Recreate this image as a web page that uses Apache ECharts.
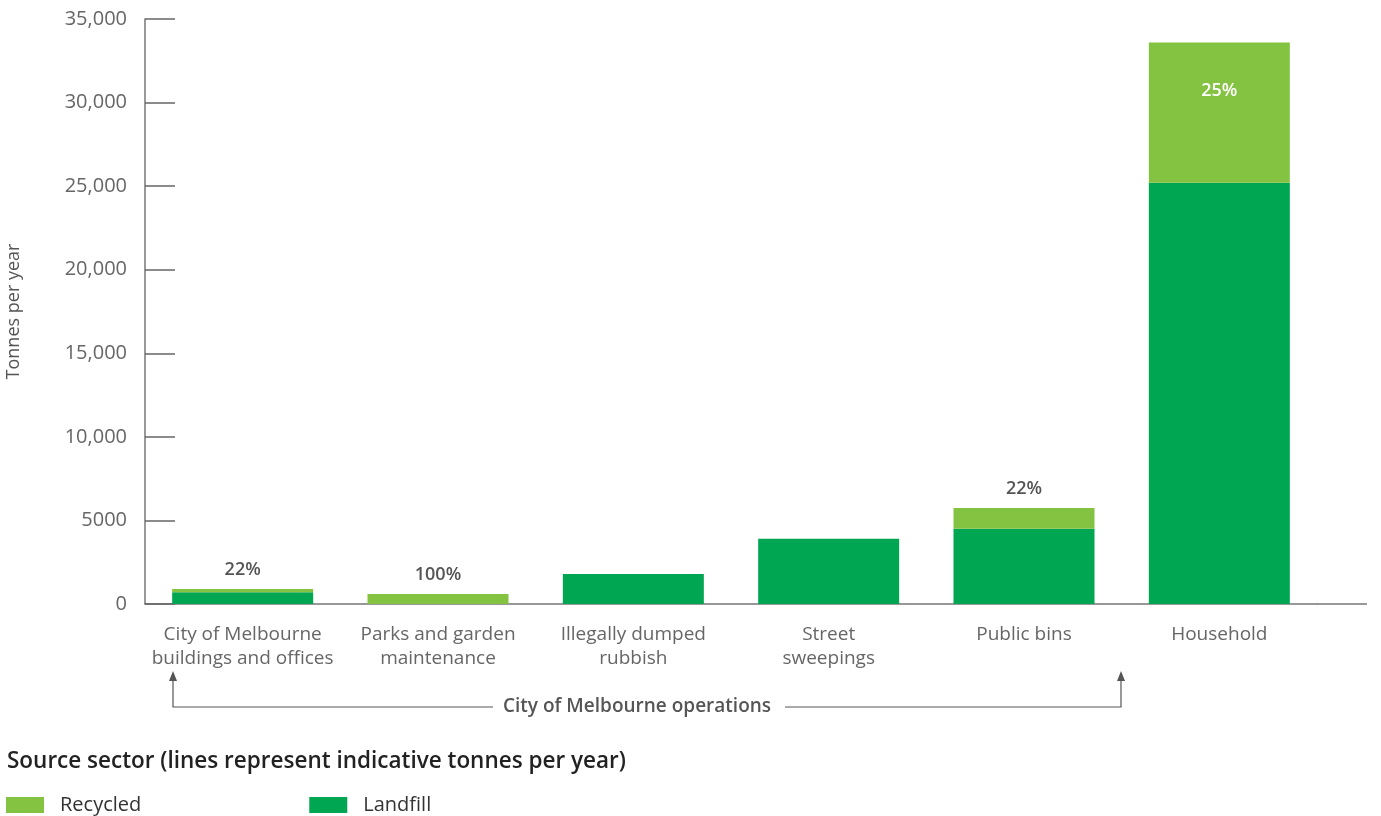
<!DOCTYPE html>
<html>
<head>
<meta charset="utf-8">
<script src="https://cdn.jsdelivr.net/npm/echarts@6/dist/echarts.min.js"></script>
<style>
html,body{margin:0;padding:0;background:#fff;}
#chart{width:1381px;height:816px;}
</style>
</head>
<body>
<div id="chart"></div>
<script>
const categories = ['City of Melbourne\nbuildings and offices', 'Parks and garden\nmaintenance', 'Illegally dumped\nrubbish', 'Street\nsweepings', 'Public bins', 'Household'];
const landfill = [700, 0, 1800, 3900, 4500, 25200];
const recycled = [200, 600, 0, 0, 1250, 8400];
const recycledPct = ['22%', '100%', '', '', '22%', '25%'];
const yTickLabels = ['0', '5000', '10,000', '15,000', '20,000', '25,000', '30,000', '35,000'];

const FONT = '"Open Sans", sans-serif';
const chart = echarts.init(document.getElementById('chart'));

const recycledData = recycled.map((v, i) => {
  const item = { value: v };
  if (i === 5) {
    item.label = { show: true, position: 'insideTop', distance: 39, color: '#ffffff', formatter: recycledPct[i] };
  } else if (recycledPct[i]) {
    item.label = { show: true, position: 'top', distance: 10, formatter: recycledPct[i] };
  }
  return item;
});

chart.setOption({
  animation: false,
  textStyle: { fontFamily: FONT },
  grid: { left: 145, top: 19, bottom: 212, width: 1172, containLabel: false, outerBoundsMode: 'none' },
  legend: {
    left: 6, top: 795, itemWidth: 38, itemHeight: 16, itemGap: 168, padding: 0,
    icon: 'rect',
    data: ['Recycled', 'Landfill'],
    textStyle: { fontFamily: FONT, fontSize: 20, color: '#333', padding: [0, 0, 0, 11] }
  },
  xAxis: {
    type: 'category',
    data: categories,
    axisLine: { lineStyle: { color: '#777', width: 1.5 } },
    axisTick: { show: false },
    axisLabel: { interval: 0, fontFamily: FONT, fontSize: 19, color: '#666', lineHeight: 24, margin: 19 }
  },
  yAxis: {
    type: 'value', min: 0, max: 35000, interval: 5000,
    name: 'Tonnes per year', nameLocation: 'middle', nameGap: 122, nameRotate: 90,
    nameTextStyle: { fontFamily: FONT, fontSize: 18, color: '#555' },
    axisLine: { show: true, lineStyle: { color: '#777', width: 1.5 } },
    axisTick: { show: true, inside: true, length: 30, lineStyle: { color: '#666', width: 1.5 } },
    splitLine: { show: false },
    axisLabel: {
      fontFamily: FONT, fontSize: 20, color: '#666', margin: 18,
      formatter: v => yTickLabels[Math.round(v / 5000)]
    }
  },
  series: [
    {
      name: 'Landfill', type: 'bar', stack: 'total', barWidth: 141,
      itemStyle: { color: '#00a651' },
      data: landfill
    },
    {
      name: 'Recycled', type: 'bar', stack: 'total', barWidth: 141,
      itemStyle: { color: '#84c341' },
      label: { fontFamily: FONT, fontSize: 18, fontWeight: 600, color: '#555' },
      data: recycledData
    }
  ],
  graphic: [
    { type: 'line', shape: { x1: 1317, y1: 604, x2: 1367, y2: 604 }, style: { stroke: '#777', lineWidth: 1.5 } },
    { type: 'polyline', shape: { points: [[173, 680], [173, 707], [493, 707]] }, style: { stroke: '#555', lineWidth: 1.2, fill: null } },
    { type: 'polyline', shape: { points: [[785, 707], [1121, 707], [1121, 680]] }, style: { stroke: '#555', lineWidth: 1.2, fill: null } },
    { type: 'polygon', shape: { points: [[169, 681], [177, 681], [173, 671]] }, style: { fill: '#555' } },
    { type: 'polygon', shape: { points: [[1117, 681], [1125, 681], [1121, 671]] }, style: { fill: '#555' } },
    { type: 'text', x: 637, y: 707, style: { text: 'City of Melbourne operations', font: '600 19px "Open Sans", sans-serif', fill: '#555', align: 'center', verticalAlign: 'middle' } },
    { type: 'text', x: 7, y: 762, style: { text: 'Source sector (lines represent indicative tonnes per year)', font: '600 22.5px "Open Sans", sans-serif', fill: '#222', align: 'left', verticalAlign: 'middle' } }
  ]
});
</script>
</body>
</html>
